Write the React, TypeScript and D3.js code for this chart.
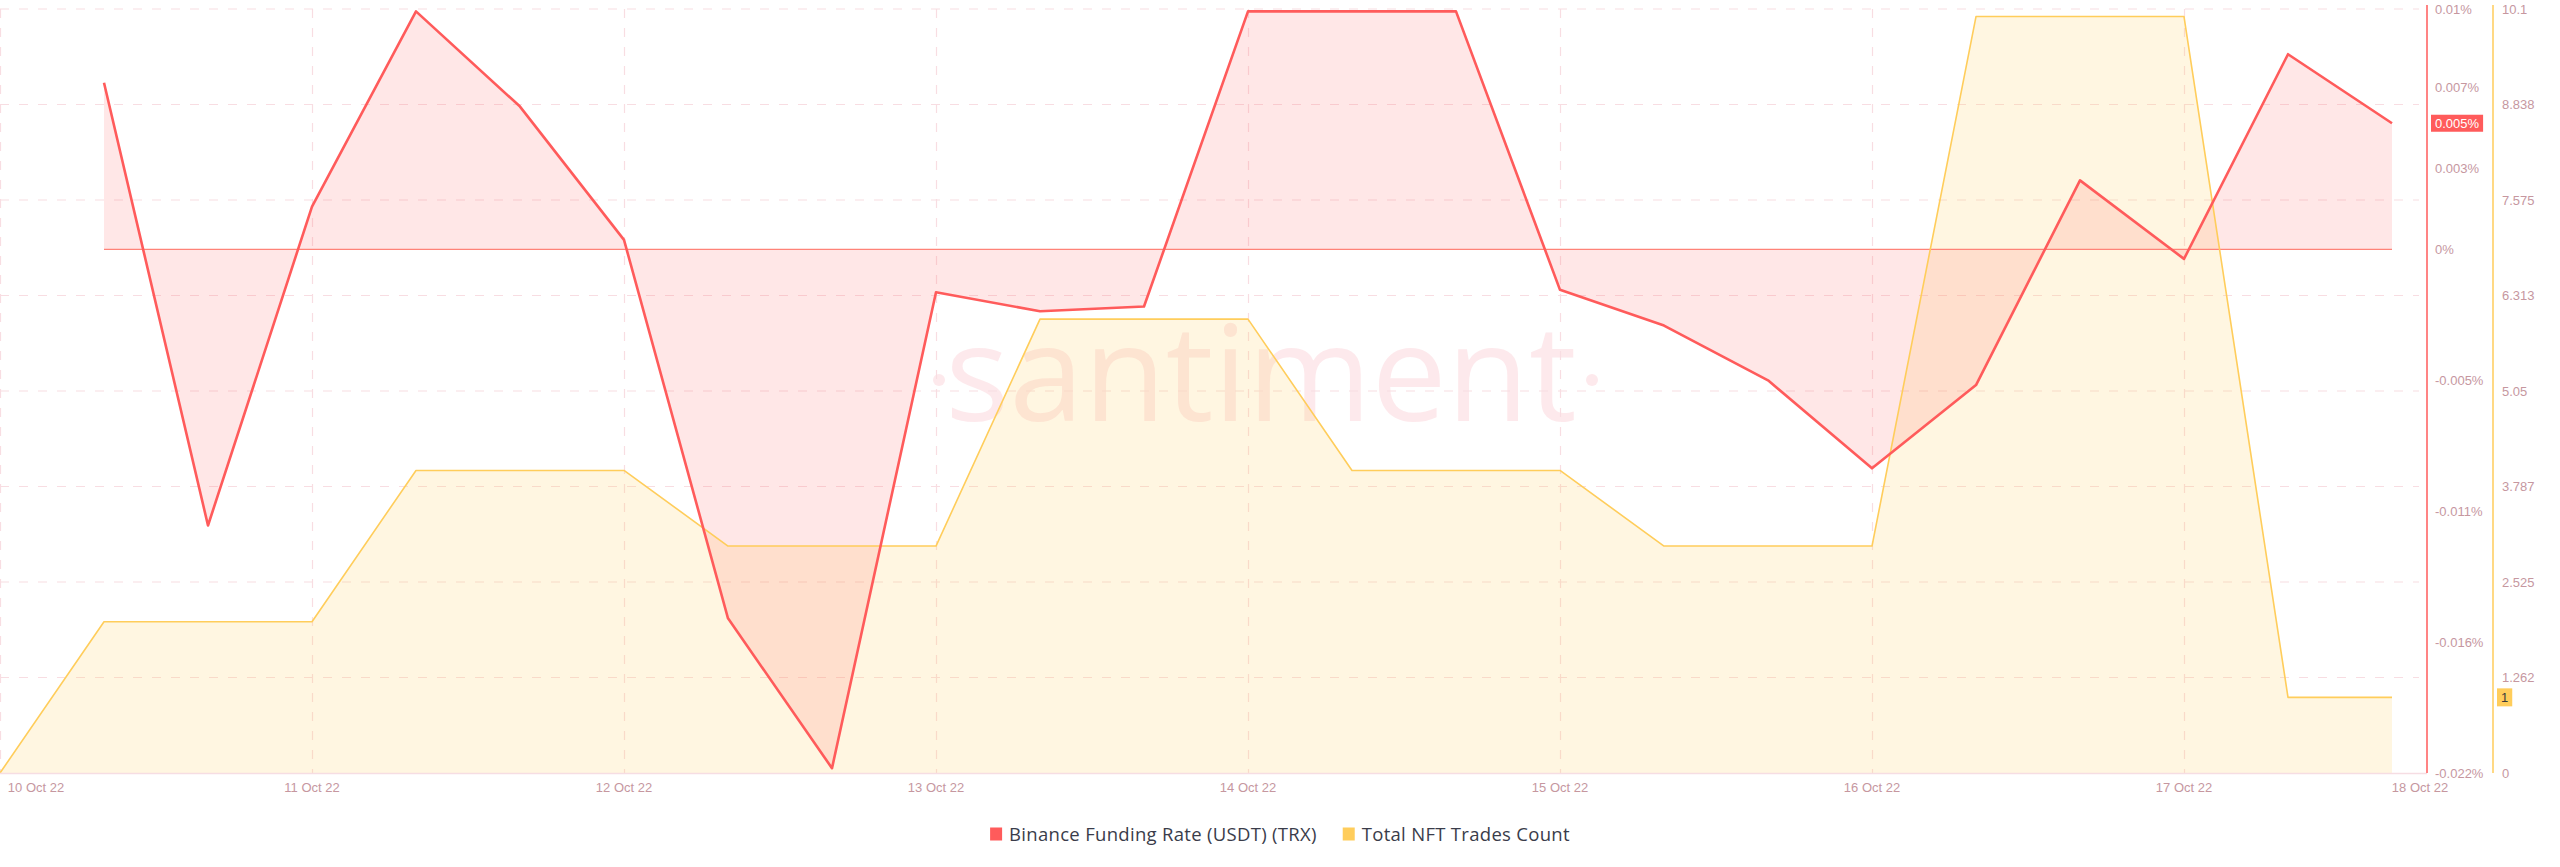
import React, { useEffect, useRef } from "react";
import * as d3 from "d3";

const dates: string[] = [
  "2022-10-10T00:00:00Z", "2022-10-10T08:00:00Z", "2022-10-10T16:00:00Z",
  "2022-10-11T00:00:00Z", "2022-10-11T08:00:00Z", "2022-10-11T16:00:00Z",
  "2022-10-12T00:00:00Z", "2022-10-12T08:00:00Z", "2022-10-12T16:00:00Z",
  "2022-10-13T00:00:00Z", "2022-10-13T08:00:00Z", "2022-10-13T16:00:00Z",
  "2022-10-14T00:00:00Z", "2022-10-14T08:00:00Z", "2022-10-14T16:00:00Z",
  "2022-10-15T00:00:00Z", "2022-10-15T08:00:00Z", "2022-10-15T16:00:00Z",
  "2022-10-16T00:00:00Z", "2022-10-16T08:00:00Z", "2022-10-16T16:00:00Z",
  "2022-10-17T00:00:00Z", "2022-10-17T08:00:00Z", "2022-10-17T16:00:00Z",
];

const fundingRate: (number | null)[] = [
  null, 0.007, -0.0116, 0.0018, 0.01, 0.006, 0.0004, -0.0155, -0.0218,
  -0.0018, -0.0026, -0.0024, 0.01, 0.01, 0.01, -0.0017, -0.0032, -0.0055,
  -0.0092, -0.0057, 0.0029, -0.0004, 0.0082, 0.0053,
];

const nftTrades: number[] = [
  0, 2, 2, 2, 4, 4, 4, 3, 3, 3, 6, 6, 6, 4, 4, 4, 3, 3, 3, 10, 10, 10, 1, 1,
];

const xTickDates: string[] = [
  "2022-10-10T00:00:00Z", "2022-10-11T00:00:00Z", "2022-10-12T00:00:00Z",
  "2022-10-13T00:00:00Z", "2022-10-14T00:00:00Z", "2022-10-15T00:00:00Z",
  "2022-10-16T00:00:00Z", "2022-10-17T00:00:00Z", "2022-10-18T00:00:00Z",
];
const xTickLabels: string[] = [
  "10 Oct 22", "11 Oct 22", "12 Oct 22", "13 Oct 22", "14 Oct 22",
  "15 Oct 22", "16 Oct 22", "17 Oct 22", "18 Oct 22",
];

const fundingTicks: number[] = [0.0101, 0.0068, 0.0034, 0, -0.0055, -0.011, -0.0165, -0.022];
const fundingTickLabels: string[] = ["0.01%", "0.007%", "0.003%", "0%", "-0.005%", "-0.011%", "-0.016%", "-0.022%"];

const nftTicks: number[] = [0, 1.2625, 2.525, 3.7875, 5.05, 6.3125, 7.575, 8.8375, 10.1];
const nftTickLabels: string[] = ["0", "1.262", "2.525", "3.787", "5.05", "6.313", "7.575", "8.838", "10.1"];

const seriesNames: string[] = ["Binance Funding Rate (USDT) (TRX)", "Total NFT Trades Count"];
const fundingLabel = "0.005%";
const nftLabel = "1";

const RED = "#ff5b5b";
const YELLOW = "#ffcd5b";
const AXIS_TEXT = "#c6979f";
const GRID = "#f8dde2";
const FONT = "'Liberation Sans', Arial, sans-serif";

export default function App() {
  const ref = useRef<SVGSVGElement | null>(null);

  useEffect(() => {
    const svg = d3.select(ref.current);
    svg.selectAll("*").remove();

    const plotLeft = 0, plotRight = 2427, plotTop = 9, plotBottom = 773;
    const yellowAxisX = 2493;

    const parsed = dates.map((d) => new Date(d));
    const x = d3.scaleUtc()
      .domain([parsed[0], parsed[parsed.length - 1]])
      .range([0, 2392]);
    const yF = d3.scaleLinear().domain([-0.022, 0.0101]).range([plotBottom, plotTop]);
    const yN = d3.scaleLinear().domain([0, 10.1]).range([plotBottom, plotTop]);

    // watermark
    const wm = svg.append("g");
    wm.append("text")
      .attr("x", 1261).attr("y", 421)
      .attr("text-anchor", "middle")
      .attr("font-family", "'Open Sans', sans-serif")
      .attr("font-size", 134)
      .attr("fill", "rgba(240,110,130,0.15)")
      .text("santiment");
    [939, 1592].forEach((cx) =>
      wm.append("circle").attr("cx", cx).attr("cy", 380).attr("r", 6)
        .attr("fill", "rgba(240,110,130,0.15)"));

    // horizontal grid
    const grid = svg.append("g");
    nftTicks.forEach((t) => {
      if (t === 0) return;
      grid.append("line")
        .attr("x1", plotLeft).attr("x2", plotRight - 8)
        .attr("y1", yN(t)).attr("y2", yN(t))
        .attr("stroke", GRID).attr("stroke-width", 1.2)
        .attr("stroke-dasharray", "9 10");
    });
    // vertical grid
    xTickDates.forEach((d) => {
      const xx = x(new Date(d));
      if (xx > plotRight) return;
      grid.append("line")
        .attr("x1", xx + 0.5).attr("x2", xx + 0.5)
        .attr("y1", plotTop).attr("y2", plotBottom)
        .attr("stroke", GRID).attr("stroke-width", 1.2)
        .attr("stroke-dasharray", "9 10");
    });

    // NFT area
    const nftData = parsed.map((d, i) => ({ d, v: nftTrades[i] }));
    const areaN = d3.area<any>().x((p) => x(p.d)).y0(yN(0)).y1((p) => yN(p.v));
    const lineN = d3.line<any>().x((p) => x(p.d)).y((p) => yN(p.v));
    svg.append("path").attr("d", areaN(nftData)!)
      .attr("fill", "rgba(255,205,91,0.18)");

    // funding area
    const fData = parsed.map((d, i) => ({ d, v: fundingRate[i] })).filter((p) => p.v !== null);
    const areaF = d3.area<any>().x((p) => x(p.d)).y0(yF(0)).y1((p) => yF(p.v));
    const lineF = d3.line<any>().x((p) => x(p.d)).y((p) => yF(p.v));
    svg.append("path").attr("d", areaF(fData)!)
      .attr("fill", "rgba(255,91,91,0.15)");

    // zero baseline
    svg.append("line")
      .attr("x1", x(fData[0].d)).attr("x2", x(fData[fData.length - 1].d))
      .attr("y1", yF(0)).attr("y2", yF(0))
      .attr("stroke", "#ff8378").attr("stroke-width", 1.3);

    svg.append("path").attr("d", lineN(nftData)!)
      .attr("fill", "none").attr("stroke", YELLOW).attr("stroke-width", 1.6)
      .attr("stroke-linejoin", "round");
    svg.append("path").attr("d", lineF(fData)!)
      .attr("fill", "none").attr("stroke", RED).attr("stroke-width", 2.6)
      .attr("stroke-linejoin", "round");

    // bottom axis line
    svg.append("line")
      .attr("x1", plotLeft).attr("x2", plotRight)
      .attr("y1", plotBottom + 0.5).attr("y2", plotBottom + 0.5)
      .attr("stroke", "#f6dde3").attr("stroke-width", 1.5);

    // x labels
    xTickDates.forEach((d, i) => {
      const xx = Math.max(36, Math.min(2420, x(new Date(d))));
      svg.append("text")
        .attr("x", xx).attr("y", 792)
        .attr("text-anchor", "middle")
        .attr("font-family", FONT).attr("font-size", 13)
        .attr("fill", AXIS_TEXT)
        .text(xTickLabels[i]);
    });

    // red axis
    svg.append("line")
      .attr("x1", plotRight).attr("x2", plotRight)
      .attr("y1", plotTop - 4).attr("y2", plotBottom)
      .attr("stroke", RED).attr("stroke-width", 1.5);
    fundingTicks.forEach((t, i) => {
      svg.append("text")
        .attr("x", 2435).attr("y", yF(t) + 4.5)
        .attr("font-family", FONT).attr("font-size", 13)
        .attr("fill", AXIS_TEXT)
        .text(fundingTickLabels[i]);
    });

    // yellow axis
    svg.append("line")
      .attr("x1", yellowAxisX).attr("x2", yellowAxisX)
      .attr("y1", plotTop - 4).attr("y2", plotBottom)
      .attr("stroke", YELLOW).attr("stroke-width", 1.5);
    nftTicks.forEach((t, i) => {
      svg.append("text")
        .attr("x", 2502).attr("y", yN(t) + 4.5)
        .attr("font-family", FONT).attr("font-size", 13)
        .attr("fill", AXIS_TEXT)
        .text(nftTickLabels[i]);
    });

    // current value badges
    const lastF = fData[fData.length - 1].v as number;
    const fy = yF(lastF);
    const fb = svg.append("g");
    const fRect = fb.append("rect").attr("x", 2431).attr("y", fy - 8.5).attr("height", 17).attr("fill", RED);
    const fText = fb.append("text").attr("x", 2435).attr("y", fy + 4.5)
      .attr("font-family", FONT).attr("font-size", 13).attr("fill", "#ffffff").text(fundingLabel);
    const fw = (fText.node() as SVGTextElement).getComputedTextLength();
    fRect.attr("width", fw + 8);

    const lastN = nftTrades[nftTrades.length - 1];
    const ny = yN(lastN);
    const nb = svg.append("g");
    const nRect = nb.append("rect").attr("x", 2497).attr("y", ny - 9).attr("height", 18).attr("fill", YELLOW);
    const nText = nb.append("text").attr("x", 2501).attr("y", ny + 4.5)
      .attr("font-family", FONT).attr("font-size", 13).attr("fill", "#3a3a3a").text(nftLabel);
    const nw = (nText.node() as SVGTextElement).getComputedTextLength();
    nRect.attr("width", nw + 8);

    // legend
    const lg = svg.append("g");
    const colors = [RED, YELLOW];
    const items = seriesNames.map((name, i) => {
      const g = lg.append("g");
      g.append("rect").attr("x", 0).attr("y", -6.5).attr("width", 12).attr("height", 13).attr("fill", colors[i]);
      const t = g.append("text").attr("x", 19).attr("y", 6.5)
        .attr("font-family", "'Open Sans', sans-serif").attr("font-size", 18.5)
        .attr("letter-spacing", 0.3)
        .attr("fill", "#3a3c4a").text(name);
      const w = 19 + (t.node() as SVGTextElement).getComputedTextLength();
      return { g, w };
    });
    const gap = 26;
    const total = items.reduce((s, it) => s + it.w, 0) + gap * (items.length - 1);
    let cx = 1280 - total / 2;
    items.forEach((it) => {
      it.g.attr("transform", `translate(${cx},834)`);
      cx += it.w + gap;
    });
  }, []);

  return (
    <svg
      ref={ref}
      width={2560}
      height={867}
      style={{ position: "absolute", left: 0, top: 0, background: "#ffffff" }}
    />
  );
}
